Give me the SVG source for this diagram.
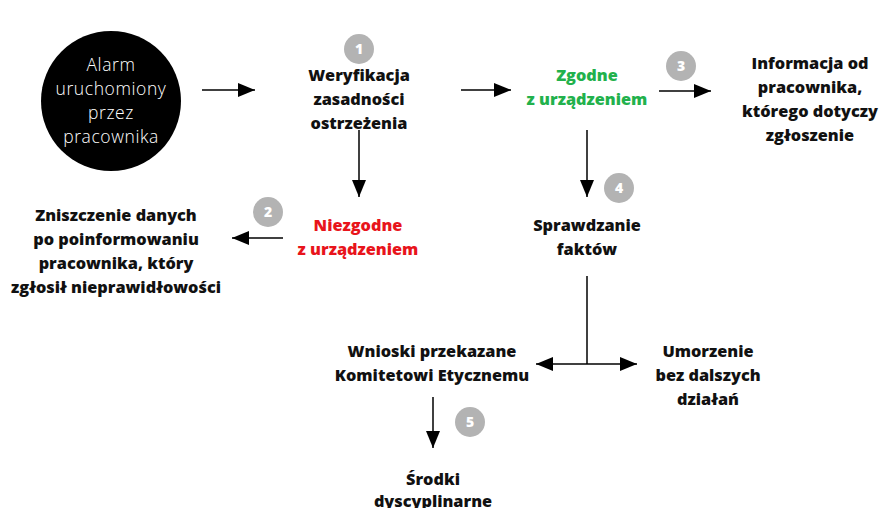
<svg xmlns="http://www.w3.org/2000/svg" width="883" height="508" viewBox="0 0 883 508">
<defs>
<marker id="ah" viewBox="0 0 17 14" refX="17" refY="7" markerWidth="17" markerHeight="14" markerUnits="userSpaceOnUse" orient="auto-start-reverse">
<path d="M0,0 L17,7 L0,14 Z" fill="#000"/>
</marker>
</defs>
<style>
.t{font-family:"Open Sans","DejaVu Sans",sans-serif;font-weight:800;font-size:16.3px;fill:#111;text-anchor:middle}
.w{font-family:"Open Sans","DejaVu Sans",sans-serif;font-weight:300;font-size:17.5px;letter-spacing:0.6px;fill:#fff;text-anchor:middle}
.g{fill:#22b14c}
.r{fill:#e8141b}
.b{fill:#b3b3b3}
.bn{font-family:"Open Sans","DejaVu Sans",sans-serif;font-weight:800;font-size:14px;fill:#fff;text-anchor:middle}
.c{stroke:#000;stroke-width:1.5;fill:none}
</style>
<rect width="883" height="508" fill="#fff"/>
<g id="connectors">
<line class="c" x1="202" y1="90" x2="255" y2="90" marker-end="url(#ah)"/>
<line class="c" x1="359" y1="130" x2="359" y2="197" marker-end="url(#ah)"/>
<line class="c" x1="461" y1="90" x2="511" y2="90" marker-end="url(#ah)"/>
<line class="c" x1="659" y1="91" x2="711" y2="91" marker-end="url(#ah)"/>
<line class="c" x1="587" y1="130" x2="587" y2="197" marker-end="url(#ah)"/>
<line class="c" x1="283" y1="238" x2="232" y2="238" marker-end="url(#ah)"/>
<line class="c" x1="587" y1="276" x2="587" y2="364"/>
<line class="c" x1="536" y1="364" x2="637" y2="364" marker-start="url(#ah)" marker-end="url(#ah)"/>
<line class="c" x1="433" y1="397" x2="433" y2="448" marker-end="url(#ah)"/>
</g>
<g id="alarm">
<circle cx="111" cy="101" r="70" fill="#000"/>
<text class="w" x="111" y="71">Alarm</text>
<text class="w" x="111" y="95">uruchomiony</text>
<text class="w" x="111" y="119">przez</text>
<text class="w" x="111" y="143">pracownika</text>
</g>
<g id="badge1"><circle class="b" cx="359" cy="49" r="15"/><text class="bn" x="359" y="54">1</text></g>
<g id="weryfikacja">
<text class="t" x="359" y="81">Weryfikacja</text>
<text class="t" x="359" y="105">zasadności</text>
<text class="t" x="359" y="129">ostrzeżenia</text>
</g>
<g id="zgodne">
<text class="t g" x="587" y="81">Zgodne</text>
<text class="t g" x="587" y="105">z urządzeniem</text>
</g>
<g id="badge3"><circle class="b" cx="681" cy="66" r="15"/><text class="bn" x="681" y="71">3</text></g>
<g id="informacja">
<text class="t" x="810" y="69">Informacja od</text>
<text class="t" x="810" y="93">pracownika,</text>
<text class="t" x="810" y="117">którego dotyczy</text>
<text class="t" x="810" y="141">zgłoszenie</text>
</g>
<g id="badge4"><circle class="b" cx="619" cy="188" r="15"/><text class="bn" x="619" y="193">4</text></g>
<g id="sprawdzanie">
<text class="t" x="587" y="231">Sprawdzanie</text>
<text class="t" x="587" y="255">faktów</text>
</g>
<g id="badge2"><circle class="b" cx="268" cy="212" r="15"/><text class="bn" x="268" y="217">2</text></g>
<g id="niezgodne">
<text class="t r" x="358" y="231">Niezgodne</text>
<text class="t r" x="358" y="255">z urządzeniem</text>
</g>
<g id="zniszczenie">
<text class="t" x="116" y="221">Zniszczenie danych</text>
<text class="t" x="116" y="245">po poinformowaniu</text>
<text class="t" x="116" y="269">pracownika, który</text>
<text class="t" x="116" y="293">zgłosił nieprawidłowości</text>
</g>
<g id="wnioski">
<text class="t" x="432" y="357">Wnioski przekazane</text>
<text class="t" x="432" y="381">Komitetowi Etycznemu</text>
</g>
<g id="umorzenie">
<text class="t" x="708" y="357">Umorzenie</text>
<text class="t" x="708" y="381">bez dalszych</text>
<text class="t" x="708" y="405">działań</text>
</g>
<g id="badge5"><circle class="b" cx="470" cy="422" r="15"/><text class="bn" x="470" y="427">5</text></g>
<g id="srodki">
<text class="t" x="433" y="485">Środki</text>
<text class="t" x="433" y="507">dyscyplinarne</text>
</g>
</svg>
